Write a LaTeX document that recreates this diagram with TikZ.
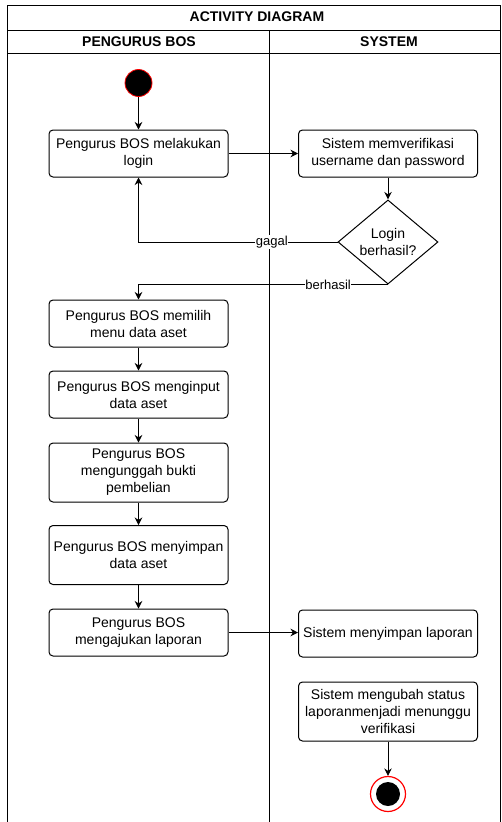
\documentclass[tikz,border=0pt]{standalone}
\usepackage{fontspec}
\setmainfont{Liberation Sans}
\usepackage{xcolor}
\usepackage{tikz}
\usetikzlibrary{shapes,shapes.geometric}
\usetikzlibrary{calc,arrows.meta,positioning}
\tikzset{
  act_box/.style = {draw, fill=white, rounded corners=4pt, line width=1pt, align=center, text centered, inner sep=1pt, minimum width=179pt, minimum height=47pt, font=\fontsize{14}{17}\selectfont},
  act_tall/.style = {act_box, minimum height=59pt},
  dec_node/.style = {diamond, draw, fill=white, line width=1pt, align=center, inner sep=0pt, minimum width=100pt, minimum height=82pt, font=\fontsize{14}{17}\selectfont},
  start_node/.style = {circle, draw=red, fill=black, line width=0.8pt, minimum size=27pt, inner sep=0pt},
  end_node/.style = {circle, draw=red, fill=white, line width=1.2pt, minimum size=35pt, inner sep=0pt, path picture={\fill[black] (path picture bounding box.center) circle (12pt);}},
  lane/.style = {line width=1pt},
  head/.style = {font=\fontsize{14}{17}\selectfont\bfseries},
  flow/.style = {line width=0.9pt, -{Stealth[length=7.5pt,width=7.5pt]}},
  lbl/.style = {fill=white, inner sep=0.5pt, font=\fontsize{13}{15}\selectfont}
}

\begin{document}
\begin{tikzpicture}[x=1pt, y=-1pt]
	\useasboundingbox (0,0) rectangle (502,822);
	% swimlanes
	\draw[lane] (7,822) -- (7,5) -- (500.5,5) -- (500.5,822);
	\draw[lane] (7,30) -- (500.5,30);
	\draw[lane] (7,53) -- (500.5,53);
	\draw[lane] (269,30) -- (269,822);
	\node[head] (title) at (257,17) {ACTIVITY DIAGRAM};
	\node[head] (lane_pb) at (139,42) {PENGURUS BOS};
	\node[head] (lane_sys) at (389,42) {SYSTEM};

	% nodes
	\node[start_node] (start) at (138.5,83) {};
	\node[act_box] (login) at (138.5,153.5) {Pengurus BOS melakukan\\login};
	\node[act_box] (verif) at (388,153.5) {Sistem memverifikasi\\username dan password};
	\node[dec_node] (cek) at (388,242) {Login\\berhasil?};
	\node[act_box] (menu) at (138.5,323.5) {Pengurus BOS memilih\\menu data aset};
	\node[act_box] (input) at (138.5,394.5) {Pengurus BOS menginput\\data aset};
	\node[act_tall] (unggah) at (138.5,472.5) {Pengurus BOS\\mengunggah bukti\\pembelian};
	\node[act_tall] (simpan) at (138.5,555) {Pengurus BOS menyimpan\\data aset};
	\node[act_box] (ajukan) at (138.5,632.5) {Pengurus BOS\\mengajukan laporan};
	\node[act_box] (laporan) at (388,633.5) {Sistem menyimpan laporan};
	\node[act_tall] (ubah) at (388,711.5) {Sistem mengubah status\\laporanmenjadi menunggu\\verifikasi};
	\node[end_node] (finish) at (388,794) {};

	% flows
	\draw[flow] (start) -- (login);
	\draw[flow] (login) -- (verif);
	\draw[flow] (verif) -- (cek);
	\draw[flow] (cek.west) -| node[lbl, pos=0.165] {gagal} (login.south);
	\draw[flow] (cek.south) -| node[lbl, pos=0.12] {berhasil} (menu.north);
	\draw[flow] (menu) -- (input);
	\draw[flow] (input) -- (unggah);
	\draw[flow] (unggah) -- (simpan);
	\draw[flow] (simpan) -- (ajukan);
	\draw[flow] (ajukan.east) -- (ajukan.east -| laporan.west);
	\draw[flow] (ubah) -- (finish);
\end{tikzpicture}
\end{document}
